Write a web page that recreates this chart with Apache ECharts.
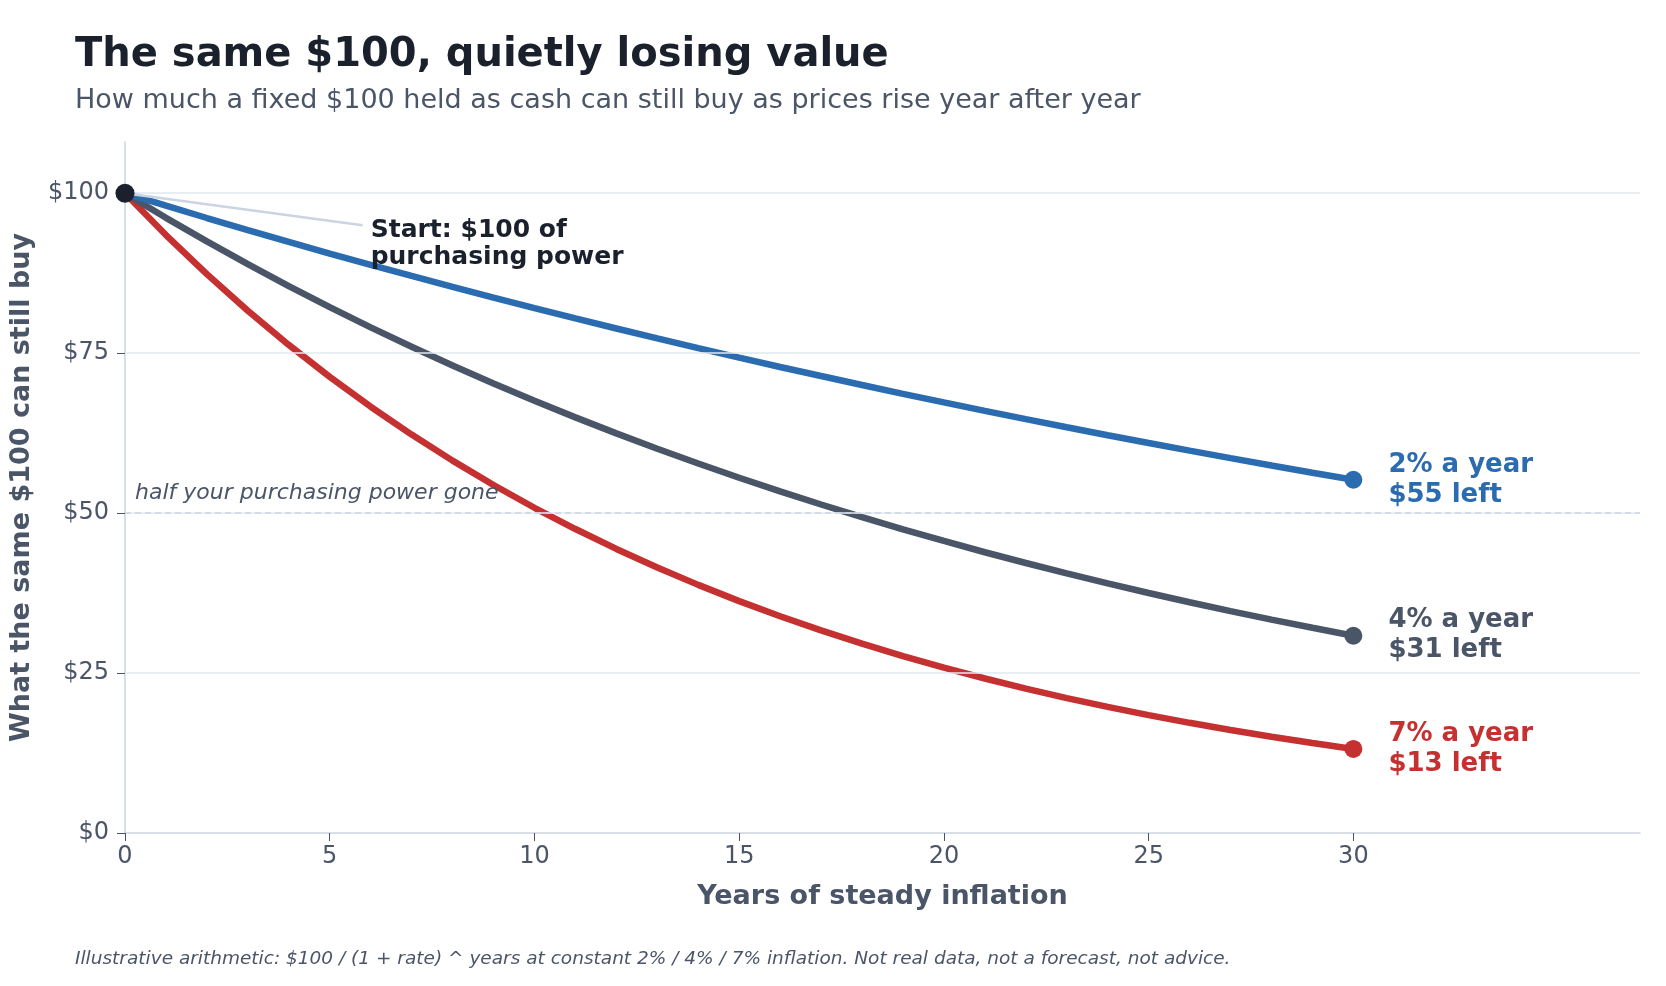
<!DOCTYPE html>
<html>
<head>
<meta charset="utf-8">
<title>The same $100, quietly losing value</title>
<script src="https://cdn.jsdelivr.net/npm/echarts@6/dist/echarts.min.js"></script>
<style>
  html, body { margin: 0; padding: 0; background: #fff; }
  #chart { width: 1666px; height: 986px; }
</style>
</head>
<body>
<div id="chart"></div>
<script>
// values, one per year (0..30)
const years = [0,1,2,3,4,5,6,7,8,9,10,11,12,13,14,15,16,17,18,19,20,21,22,23,24,25,26,27,28,29,30];
const rate2 = [100,98.04,96.12,94.23,92.38,90.57,88.80,87.06,85.35,83.68,82.03,80.43,78.85,77.30,75.79,74.30,72.84,71.42,70.02,68.64,67.30,65.98,64.68,63.42,62.17,60.95,59.76,58.59,57.44,56.31,55.21];
const rate4 = [100,96.15,92.46,88.90,85.48,82.19,79.03,75.99,73.07,70.26,67.56,64.96,62.46,60.06,57.75,55.53,53.39,51.34,49.36,47.46,45.64,43.88,42.20,40.57,39.01,37.51,36.07,34.68,33.35,32.07,30.83];
const rate7 = [100,93.46,87.34,81.63,76.29,71.30,66.63,62.27,58.20,54.39,50.83,47.51,44.40,41.50,38.78,36.24,33.87,31.66,29.59,27.65,25.84,24.15,22.57,21.09,19.71,18.42,17.22,16.09,15.04,14.06,13.14];
const xTicks = [0, 5, 10, 15, 20, 25, 30];
const yTicks = [0, 25, 50, 75, 100];
const gridValues = [25, 50, 75, 100];
const halfLine = 50;
const startPoint = [0, 100];
const startLabelAt = [6, 92];
const startLeaderEnd = [5.8, 95];

const FONT = '"DejaVu Sans", sans-serif';
const C2 = '#2b6cb0', C4 = '#4a5568', C7 = '#c53030';
const INK = '#1a202c', MUTED = '#4a5568', LIGHT = '#cbd5e1', GRID = '#e2e8f0';

const pairs = arr => years.map((y, i) => [y, arr[i]]);

function curve(name, arr, color, z) {
  return {
    name, type: 'line', data: pairs(arr), showSymbol: false, z,
    lineStyle: { color, width: 6.5 }, itemStyle: { color }, silent: true
  };
}

function endDot(arr, color, pct) {
  const last = arr[arr.length - 1];
  return {
    type: 'scatter', z: 5, symbolSize: 18, silent: true,
    itemStyle: { color, opacity: 1 },
    data: [[years[years.length - 1], last]],
    label: {
      show: true, position: 'right', distance: 26,
      formatter: pct + '% a year\n$' + Math.round(last) + ' left',
      color, fontFamily: FONT, fontWeight: 'bold', fontSize: 26, lineHeight: 30, align: 'left'
    }
  };
}

const chart = echarts.init(document.getElementById('chart'));
chart.setOption({
  animation: false,
  textStyle: { fontFamily: FONT },
  title: [
    { text: 'The same $100, quietly losing value', left: 70, top: 31,
      textStyle: { fontFamily: FONT, fontSize: 40, fontWeight: 'bold', color: INK } },
    { text: 'How much a fixed $100 held as cash can still buy as prices rise year after year', left: 70, top: 82,
      textStyle: { fontFamily: FONT, fontSize: 27, fontWeight: 'normal', color: MUTED } },
    { text: 'Illustrative arithmetic: $100 / (1 + rate) ^ years at constant 2% / 4% / 7% inflation. Not real data, not a forecast, not advice.',
      left: 70, top: 945,
      textStyle: { fontFamily: FONT, fontSize: 18.5, fontStyle: 'italic', fontWeight: 'normal', color: MUTED } }
  ],
  grid: { left: 124, right: 26, top: 142, bottom: 153 },
  xAxis: {
    type: 'value', min: 0, max: 37,
    name: 'Years of steady inflation', nameLocation: 'middle', nameGap: 50,
    nameTextStyle: { fontFamily: FONT, fontSize: 27, fontWeight: 'bold', color: MUTED },
    axisLine: { show: true, lineStyle: { color: LIGHT, width: 1.5 } },
    axisTick: { show: true, customValues: xTicks, length: 8, lineStyle: { color: MUTED } },
    axisLabel: { customValues: xTicks, fontSize: 24, color: MUTED, margin: 12, fontFamily: FONT },
    splitLine: { show: false }
  },
  yAxis: {
    type: 'value', min: 0, max: 108,
    name: 'What the same $100 can still buy', nameLocation: 'middle', nameGap: 90,
    nameTextStyle: { fontFamily: FONT, fontSize: 27, fontWeight: 'bold', color: MUTED },
    axisLine: { show: true, lineStyle: { color: LIGHT, width: 1.5 } },
    axisTick: { show: true, customValues: yTicks, length: 8, lineStyle: { color: MUTED } },
    axisLabel: { customValues: yTicks, fontSize: 24, color: MUTED, margin: 16, fontFamily: FONT,
      formatter: v => '$' + v },
    splitLine: { show: false }
  },
  series: [
    {
      type: 'line', data: [], silent: true, z: 1,
      markLine: {
        silent: true, symbol: 'none', animation: false,
        lineStyle: { color: GRID, width: 1.5, type: 'solid' },
        label: { show: false },
        data: gridValues.map(v => ({ yAxis: v }))
      }
    },
    {
      type: 'line', data: [], silent: true, z: 2,
      markLine: {
        silent: true, symbol: 'none', animation: false,
        lineStyle: { color: LIGHT, width: 1.5, type: [6, 4] },
        label: {
          show: true, position: 'insideStartTop', distance: [10, 9],
          formatter: 'half your purchasing power gone',
          fontFamily: FONT, fontSize: 22, fontStyle: 'italic', color: MUTED
        },
        data: [{ yAxis: halfLine }]
      }
    },
    {
      type: 'line', data: [], silent: true, z: 2,
      markLine: {
        silent: true, symbol: 'none', animation: false,
        lineStyle: { color: LIGHT, width: 2.5, type: 'solid' },
        label: { show: false },
        data: [[{ coord: startPoint }, { coord: startLeaderEnd }]]
      }
    },
    curve('7% a year', rate7, C7, 3),
    curve('4% a year', rate4, C4, 3),
    curve('2% a year', rate2, C2, 3),
    endDot(rate2, C2, 2),
    endDot(rate4, C4, 4),
    endDot(rate7, C7, 7),
    {
      type: 'scatter', z: 6, symbolSize: 19, silent: true,
      itemStyle: { color: INK, opacity: 1 },
      data: [startPoint]
    },
    {
      type: 'scatter', z: 6, symbolSize: 0, silent: true, data: [startLabelAt],
      itemStyle: { opacity: 1 },
      label: {
        show: true, position: 'right', distance: 0,
        formatter: 'Start: $100 of\npurchasing power',
        fontFamily: FONT, fontWeight: 'bold', fontSize: 25, lineHeight: 27, color: INK
      }
    }
  ]
});
</script>
</body>
</html>
